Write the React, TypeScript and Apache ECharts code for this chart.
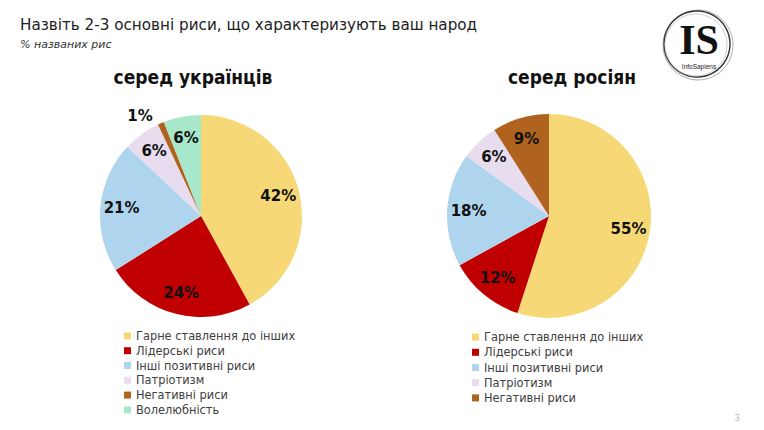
import { useEffect, useRef } from 'react'
import * as echarts from 'echarts'

const CATEGORIES = [
  'Гарне ставлення до інших',
  'Лідерські риси',
  'Інші позитивні риси',
  'Патріотизм',
  'Негативні риси',
  'Волелюбність',
]
const COLORS = ['#F6D976', '#C00000', '#AFD4EE', '#E8DCEF', '#B0621F', '#A8E8CA']
const UKR_VALUES = [42, 24, 21, 6, 1, 6]
const RUS_VALUES = [55, 12, 18, 6, 9]
// slices whose label sits outside the pie
const UKR_OUTSIDE = ['Негативні риси']

const FONT = "'DejaVu Sans', Verdana, sans-serif"
const BOLD_FONT = "'DejaVu Sans Condensed', 'DejaVu Sans', sans-serif"

function pieData(values: number[]) {
  return values.map((v, i) => ({ name: CATEGORIES[i], value: v, itemStyle: { color: COLORS[i] } }))
}

function labelData(values: number[], outside: string[]) {
  return values.map((v, i) => {
    const name = CATEGORIES[i]
    if (!outside.includes(name)) return { name, value: v }
    return {
      name,
      value: v,
      label: { position: 'outside' },
      labelLine: { show: false, length: 8, length2: 0 },
    }
  })
}

// the visible pie, plus a transparent ring on top that carries the labels further out than "inside" would
function piePair(center: number[], r: number, values: number[], outside: string[]) {
  return [
    {
      type: 'pie',
      center,
      radius: [0, r],
      data: pieData(values),
      label: { show: false },
      labelLine: { show: false },
      itemStyle: { borderWidth: 0 },
      silent: true,
      emphasis: { disabled: true },
    },
    {
      type: 'pie',
      center,
      radius: [r * 0.52, r],
      data: labelData(values, outside),
      avoidLabelOverlap: false,
      itemStyle: { color: 'rgba(0,0,0,0)', borderWidth: 0 },
      label: {
        show: true,
        position: 'inside',
        formatter: '{c}%',
        fontFamily: FONT,
        fontSize: 15,
        fontWeight: 'bold',
        color: '#111',
      },
      silent: true,
      emphasis: { disabled: true },
    },
  ]
}

function legend(left: number, top: number, names: string[], lineHeight: number) {
  return {
    orient: 'vertical',
    left,
    top,
    padding: 0,
    itemGap: 1,
    itemWidth: 7,
    itemHeight: 7,
    icon: 'rect',
    selectedMode: false,
    data: names,
    textStyle: { fontFamily: FONT, fontSize: 11.4, color: '#404040', lineHeight },
  }
}

export default function App() {
  const ref = useRef<HTMLDivElement>(null)

  useEffect(() => {
    if (!ref.current) return
    const chart = echarts.init(ref.current, null, { renderer: 'svg' })
    chart.setOption({
      animation: false,
      backgroundColor: '#fff',
      legend: [
        legend(124, 329, CATEGORIES, 13.8),
        legend(472, 330, CATEGORIES.slice(0, RUS_VALUES.length), 14.2),
      ],
      series: [
        ...piePair([201, 216], 101, UKR_VALUES, UKR_OUTSIDE),
        ...piePair([549, 216], 102, RUS_VALUES, []),
      ],
      graphic: [
        {
          type: 'text',
          left: 20,
          top: 17,
          style: { text: 'Назвіть 2-3 основні риси, що характеризують ваш народ', fontFamily: FONT, fontSize: 15.2, fill: '#222' },
        },
        {
          type: 'text',
          left: 20,
          top: 39,
          style: { text: '% названих рис', fontFamily: FONT, fontSize: 11, fontStyle: 'italic', fill: '#333' },
        },
        {
          type: 'text',
          x: 193,
          y: 77,
          style: {
            text: 'серед українців',
            fontFamily: BOLD_FONT,
            fontSize: 19,
            fontWeight: 'bold',
            fill: '#111',
            align: 'center',
            verticalAlign: 'middle',
          },
        },
        {
          type: 'text',
          x: 572,
          y: 77,
          style: {
            text: 'серед росіян',
            fontFamily: BOLD_FONT,
            fontSize: 19,
            fontWeight: 'bold',
            fill: '#111',
            align: 'center',
            verticalAlign: 'middle',
          },
        },
        // logo
        { type: 'circle', shape: { cx: 698, cy: 45, r: 35 }, style: { fill: 'none', stroke: '#999', lineWidth: 0.8 } },
        { type: 'circle', shape: { cx: 697, cy: 44, r: 33 }, style: { fill: 'none', stroke: '#333', lineWidth: 1.4 } },
        { type: 'circle', shape: { cx: 696, cy: 45, r: 31 }, style: { fill: 'none', stroke: '#bbb', lineWidth: 0.7 } },
        {
          type: 'text',
          x: 699,
          y: 40,
          style: {
            text: 'IS',
            fontFamily: "'Liberation Serif', serif",
            fontSize: 42,
            fontWeight: 'bold',
            fill: '#111',
            align: 'center',
            verticalAlign: 'middle',
          },
        },
        {
          type: 'text',
          x: 699,
          y: 66,
          style: {
            text: 'InfoSapiens',
            fontFamily: "'Liberation Sans', sans-serif",
            fontSize: 6.5,
            fill: '#222',
            align: 'center',
            verticalAlign: 'middle',
          },
        },
        {
          type: 'text',
          x: 737,
          y: 418,
          style: { text: '3', fontFamily: FONT, fontSize: 9, fill: '#bbb', align: 'center', verticalAlign: 'middle' },
        },
      ],
    })
    return () => chart.dispose()
  }, [])

  return <div ref={ref} style={{ position: 'absolute', left: 0, top: 0, width: 764, height: 430 }} />
}
